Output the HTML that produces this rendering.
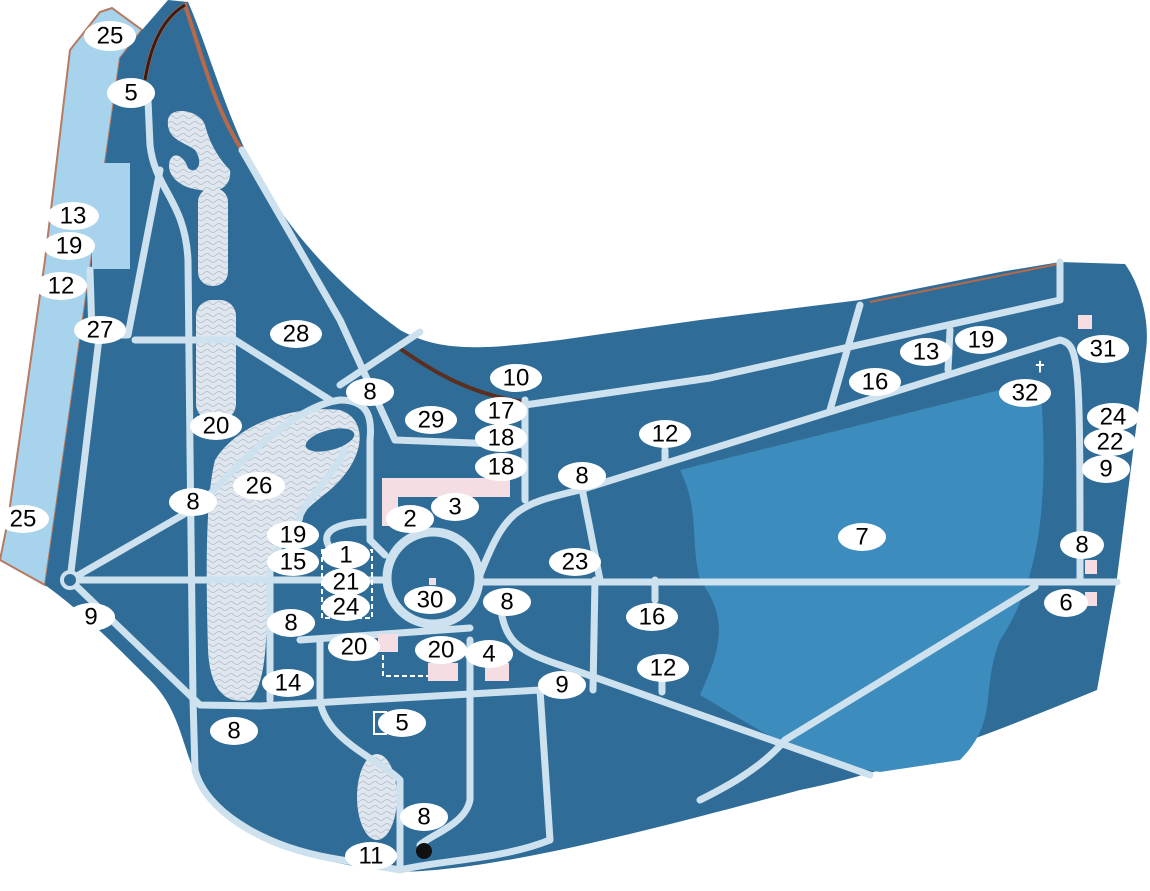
<!DOCTYPE html>
<html><head><meta charset="utf-8"><style>
html,body{margin:0;padding:0;background:#fff;width:1150px;height:891px;overflow:hidden}
svg{display:block}
text{font-family:"Liberation Sans",sans-serif;font-size:24px;fill:#000;text-anchor:middle;dominant-baseline:central}
</style></head><body>
<svg width="1150" height="891" viewBox="0 0 1150 891" xmlns="http://www.w3.org/2000/svg">
<defs>
<pattern id="wav" width="12" height="6" patternUnits="userSpaceOnUse">
<rect width="12" height="6" fill="#dfe6ee"/>
<path d="M0 3 Q3 0 6 3 T12 3" stroke="#aebccb" stroke-width="0.8" fill="none"/>
</pattern>
</defs>
<path d="M100,12 L112,8 L142,30 L120,58 L45,585 L0,560 L8,520 L45,260 L70,50 Z" fill="#a7d3ec" stroke="#b77a62" stroke-width="2"/>
<path d="M120,58 L142,30 L168,0 L188,2 C205,40 225,110 250,160 C280,220 330,280 400,330 C440,352 480,350 560,340 L700,320 L860,300 L1000,272 L1060,262 L1125,264 C1140,285 1150,320 1146,350 L1117,578 L1097,690 C1000,730 900,770 800,790 C650,830 500,870 400,872 C320,865 260,845 215,800 C180,770 190,720 150,680 C110,640 80,610 45,585 Z" fill="#2f6d98"/>
<path d="M145,80 C150,50 160,20 185,5 C200,50 215,110 242,150" stroke="#b8694a" stroke-width="4" fill="none"/>
<path d="M145,80 C150,50 160,20 185,5" stroke="#3a1c14" stroke-width="3" fill="none"/>
<path d="M395,345 C430,370 470,395 525,402 M560,400 L710,378" stroke="#5a2e20" stroke-width="4" fill="none"/>
<path d="M870,302 L1058,264" stroke="#b8694a" stroke-width="2" fill="none"/>
<path d="M680,470 L1040,380 C1050,500 1040,580 1000,640 C980,690 1000,720 960,760 L880,772 C800,760 760,730 700,695 C720,650 730,620 700,580 C690,540 700,510 680,470 Z" fill="#3d8cbe"/>
<rect x="92" y="163" width="38" height="106" fill="#a9d3ec"/>
<path d="M168,120 C170,105 200,110 205,125 C210,145 220,160 230,170 C232,185 220,195 200,190 C180,188 165,175 170,160 C175,150 185,158 188,168 C195,175 205,165 195,150 C185,142 166,140 168,120 Z" fill="url(#wav)"/>
<rect x="198" y="188" width="30" height="98" rx="14" fill="url(#wav)"/>
<rect x="196" y="300" width="40" height="120" rx="16" fill="url(#wav)"/>
<path d="M215,460 C240,420 300,405 340,410 C370,420 365,460 330,490 C305,510 280,530 270,570 C265,620 270,680 250,700 C225,705 210,690 208,650 C206,580 205,500 215,460 Z" fill="url(#wav)"/>
<ellipse cx="330" cy="440" rx="25" ry="10" transform="rotate(-15 330 440)" fill="#2f6d98"/>
<ellipse cx="377" cy="797" rx="20" ry="43" fill="url(#wav)"/>
<g stroke="#cde2ee" stroke-width="7" fill="none" stroke-linecap="round" stroke-linejoin="round">
<path d="M148,100 L150,145 C155,190 185,200 188,260 L190,450 L193,700 L195,770 C205,810 260,845 330,858 L400,870"/>
<path d="M160,170 L128,335 L92,335 L90,270"/>
<path d="M100,330 L70,580"/>
<path d="M70,580 L385,580"/>
<path d="M480,582 L1117,582"/>
<path d="M70,580 L200,705 L260,706 L540,690 L575,690"/>
<path d="M70,580 L200,505 C250,450 300,405 340,400 C370,400 372,420 370,440 L370,540"/>
<path d="M135,340 L235,340 L330,400"/>
<path d="M242,150 L340,320 L395,440 L525,445"/>
<path d="M340,385 L420,332"/>
<path d="M525,400 L525,500"/>
<path d="M525,405 L710,378 L1060,300 L1060,262"/>
<path d="M830,410 L860,305"/>
<path d="M948,370 L950,330"/>
<path d="M478,580 C505,510 515,505 580,490 L1060,340 C1080,345 1080,360 1080,580"/>
<path d="M500,605 C505,640 515,650 560,665 L870,775"/>
<path d="M1035,587 L785,740 C760,770 720,790 700,800"/>
<path d="M540,690 L550,840"/>
<path d="M580,478 L600,580"/>
<path d="M595,580 L593,690"/>
<path d="M665,450 L665,460 M655,580 L655,600 M662,680 L662,692"/>
<path d="M320,640 L320,700 C325,740 380,760 400,780 L400,870"/>
<path d="M470,640 L470,800 C465,825 430,835 420,845"/>
<path d="M270,700 L270,570 C275,540 300,528 300,515 C310,495 330,480 345,450"/>
<path d="M300,640 L470,628"/>
<path d="M330,548 C315,525 355,522 370,522 L370,540 L385,555"/>
<path d="M550,840 C500,860 440,860 400,870"/>
</g>
<circle cx="433" cy="578" r="46" fill="none" stroke="#cde2ee" stroke-width="9"/>
<circle cx="70" cy="580" r="8" fill="#2f6d98" stroke="#cde2ee" stroke-width="4"/>
<g fill="#f5dde4">
<path d="M382,478 L510,478 L510,497 L398,497 L398,526 L382,526 Z"/>
<rect x="378" y="634" width="20" height="18"/>
<rect x="428" y="663" width="30" height="18"/>
<rect x="485" y="663" width="24" height="18"/>
<rect x="429" y="578" width="7" height="7"/>
<rect x="1078" y="315" width="14" height="14"/>
<rect x="1085" y="560" width="12" height="14"/>
<rect x="1085" y="592" width="12" height="14"/>
</g>
<rect x="322" y="550" width="50" height="68" fill="none" stroke="#fff" stroke-width="2" stroke-dasharray="5,3"/>
<path d="M383,655 L383,676 L428,676" fill="none" stroke="#fff" stroke-width="2" stroke-dasharray="5,3"/>
<rect x="374" y="712" width="12" height="22" fill="none" stroke="#fff" stroke-width="2"/>
<text x="1040" y="368" style="fill:#fff;font-size:16px">✝</text>
<circle cx="424" cy="851" r="8" fill="#111"/>
<g fill="#fff">
<ellipse cx="110" cy="36" rx="26" ry="15"/><ellipse cx="131" cy="93" rx="24" ry="15"/>
<ellipse cx="73" cy="216" rx="26" ry="14"/><ellipse cx="69" cy="246" rx="26" ry="14"/>
<ellipse cx="61" cy="286" rx="26" ry="14"/><ellipse cx="100" cy="330" rx="26" ry="14"/>
<ellipse cx="296" cy="334" rx="26" ry="14"/><ellipse cx="216" cy="426" rx="26" ry="14"/>
<ellipse cx="370" cy="392" rx="24" ry="14"/><ellipse cx="516" cy="378" rx="26" ry="14"/>
<ellipse cx="501" cy="411" rx="26" ry="14"/><ellipse cx="431" cy="420" rx="26" ry="14"/>
<ellipse cx="501" cy="438" rx="26" ry="14"/><ellipse cx="501" cy="467" rx="26" ry="14"/>
<ellipse cx="259" cy="486" rx="26" ry="14"/><ellipse cx="193" cy="502" rx="24" ry="14"/>
<ellipse cx="23" cy="519" rx="26" ry="14"/><ellipse cx="410" cy="519" rx="24" ry="14"/>
<ellipse cx="455" cy="507" rx="24" ry="14"/><ellipse cx="293" cy="535" rx="26" ry="14"/>
<ellipse cx="293" cy="562" rx="26" ry="14"/><ellipse cx="346" cy="555" rx="24" ry="14"/>
<ellipse cx="346" cy="582" rx="24" ry="14"/><ellipse cx="346" cy="607" rx="24" ry="14"/>
<ellipse cx="430" cy="600" rx="26" ry="14"/><ellipse cx="507" cy="602" rx="24" ry="14"/>
<ellipse cx="575" cy="562" rx="26" ry="14"/><ellipse cx="582" cy="476" rx="24" ry="14"/>
<ellipse cx="665" cy="434" rx="26" ry="14"/><ellipse cx="875" cy="382" rx="26" ry="14"/>
<ellipse cx="926" cy="352" rx="26" ry="14"/><ellipse cx="981" cy="340" rx="26" ry="14"/>
<ellipse cx="1103" cy="349" rx="26" ry="14"/><ellipse cx="1025" cy="393" rx="26" ry="14"/>
<ellipse cx="1113" cy="417" rx="26" ry="14"/><ellipse cx="1110" cy="442" rx="26" ry="14"/>
<ellipse cx="1106" cy="469" rx="24" ry="14"/><ellipse cx="862" cy="537" rx="24" ry="14"/>
<ellipse cx="1082" cy="545" rx="22" ry="14"/><ellipse cx="1066" cy="603" rx="22" ry="14"/>
<ellipse cx="652" cy="617" rx="26" ry="14"/><ellipse cx="663" cy="668" rx="26" ry="14"/>
<ellipse cx="91" cy="617" rx="24" ry="14"/><ellipse cx="291" cy="623" rx="24" ry="14"/>
<ellipse cx="354" cy="647" rx="26" ry="14"/><ellipse cx="441" cy="650" rx="26" ry="14"/>
<ellipse cx="489" cy="654" rx="24" ry="14"/><ellipse cx="562" cy="685" rx="24" ry="14"/>
<ellipse cx="288" cy="683" rx="26" ry="14"/><ellipse cx="234" cy="731" rx="24" ry="14"/>
<ellipse cx="402" cy="723" rx="24" ry="14"/><ellipse cx="424" cy="817" rx="24" ry="14"/>
<ellipse cx="371" cy="856" rx="26" ry="14"/>
</g>
<text x="110" y="36">25</text><text x="131" y="93">5</text>
<text x="73" y="216">13</text><text x="69" y="246">19</text>
<text x="61" y="286">12</text><text x="100" y="330">27</text>
<text x="296" y="334">28</text><text x="216" y="426">20</text>
<text x="370" y="392">8</text><text x="516" y="378">10</text>
<text x="501" y="411">17</text><text x="431" y="420">29</text>
<text x="501" y="438">18</text><text x="501" y="467">18</text>
<text x="259" y="486">26</text><text x="193" y="502">8</text>
<text x="23" y="519">25</text><text x="410" y="519">2</text>
<text x="455" y="507">3</text><text x="293" y="535">19</text>
<text x="293" y="562">15</text><text x="346" y="555">1</text>
<text x="346" y="582">21</text><text x="346" y="607">24</text>
<text x="430" y="600">30</text><text x="507" y="602">8</text>
<text x="575" y="562">23</text><text x="582" y="476">8</text>
<text x="665" y="434">12</text><text x="875" y="382">16</text>
<text x="926" y="352">13</text><text x="981" y="340">19</text>
<text x="1103" y="349">31</text><text x="1025" y="393">32</text>
<text x="1113" y="417">24</text><text x="1110" y="442">22</text>
<text x="1106" y="469">9</text><text x="862" y="537">7</text>
<text x="1082" y="545">8</text><text x="1066" y="603">6</text>
<text x="652" y="617">16</text><text x="663" y="668">12</text>
<text x="91" y="617">9</text><text x="291" y="623">8</text>
<text x="354" y="647">20</text><text x="441" y="650">20</text>
<text x="489" y="654">4</text><text x="562" y="685">9</text>
<text x="288" y="683">14</text><text x="234" y="731">8</text>
<text x="402" y="723">5</text><text x="424" y="817">8</text>
<text x="371" y="856">11</text>
</svg>
</body></html>
